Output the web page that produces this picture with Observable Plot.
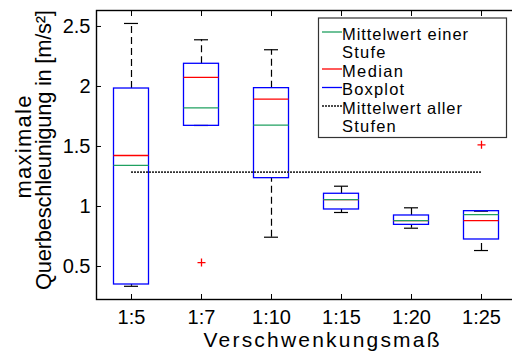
<!DOCTYPE html>
<html><head><meta charset="utf-8">
<script src="https://cdn.jsdelivr.net/npm/d3@7"></script>
<script src="https://cdn.jsdelivr.net/npm/@observablehq/plot@0.6"></script>
<style>
body{margin:0;background:#fff;font-family:"Liberation Sans",Arial,sans-serif;}
#wrap{position:relative;width:512px;height:354px;overflow:hidden;background:#fff;}
#wrap svg{position:absolute;left:0;top:0;overflow:hidden;}
</style></head><body><div id="wrap"></div>
<script>
const categories = ["1:5","1:7","1:10","1:15","1:20","1:25"];
const whiskerLow  = [0.335, 1.675, 0.744, 0.950, 0.819, 0.633];
const q1          = [0.350, 1.672, 1.236, 0.975, 0.847, 0.725];
const median      = [1.425, 2.075, 1.894, 1.058, 0.883, 0.883];
const q3          = [1.983, 2.189, 1.986, 1.106, 0.925, 0.961];
const whiskerHigh = [2.525, 2.389, 2.306, 1.169, 0.989, 0.961];
const means       = [1.342, 1.822, 1.678, 1.058, 0.883, 0.933];
const outlierCategory = ["1:7", "1:25"];
const outlierValue    = [0.533, 1.514];
const overallMean = 1.286;
const yTicks = [0.5, 1, 1.5, 2, 2.5];
const xLabel = "Verschwenkungsmaß";
const yLabelLines = ["maximale", "Querbeschleunigung in [m/s²]"];
const legendLabels = ["Mittelwert einer\nStufe", "Median", "Boxplot", "Mittelwert aller\nStufen"];

const rows = categories.map((c, i) => ({
  cat: c, pos: i + 1, lo: whiskerLow[i], q1: q1[i], med: median[i],
  q3: q3[i], hi: whiskerHigh[i], mean: means[i]
}));
const outliers = outlierCategory.map((c, i) => ({pos: categories.indexOf(c) + 1, v: outlierValue[i]}));
const bw = 0.25, cw = 0.1;
const pos = categories.map((c, i) => i + 1);
const green = "#20a060";
const FONT = "'Liberation Sans', Arial, Helvetica, sans-serif";
const plusSymbol = {
  draw(ctx, size) {
    const r = Math.sqrt(size / Math.PI);
    ctx.moveTo(-r, 0); ctx.lineTo(r, 0);
    ctx.moveTo(0, -r); ctx.lineTo(0, r);
  }
};

const chart = Plot.plot({
  width: 512, height: 354,
  marginLeft: 96, marginRight: -4, marginTop: 10, marginBottom: 55,
  x: {domain: [0.5, 6.5]},
  y: {domain: [0.225, 2.633]},
  style: {fontFamily: FONT, fontSize: "20px", color: "black", background: "white"},
  marks: [
    Plot.ruleX(rows, {x: "pos", y1: "q3", y2: "hi", stroke: "black", strokeDasharray: "7,4", strokeWidth: 1.2}),
    Plot.ruleX(rows, {x: "pos", y1: "lo", y2: "q1", stroke: "black", strokeDasharray: "7,4", strokeWidth: 1.2}),
    Plot.ruleY(rows, {y: "hi", x1: d => d.pos - cw, x2: d => d.pos + cw, stroke: "black", strokeWidth: 1.2}),
    Plot.ruleY(rows, {y: "lo", x1: d => d.pos - cw, x2: d => d.pos + cw, stroke: "black", strokeWidth: 1.2}),
    Plot.rect(rows, {x1: d => d.pos - bw, x2: d => d.pos + bw, y1: "q1", y2: "q3", stroke: "blue", fill: "none", strokeWidth: 1.3}),
    Plot.ruleY(rows, {y: "med", x1: d => d.pos - bw, x2: d => d.pos + bw, stroke: "red", strokeWidth: 1.3}),
    Plot.ruleY(rows, {y: "mean", x1: d => d.pos - bw, x2: d => d.pos + bw, stroke: green, strokeWidth: 1.3}),
    Plot.ruleY([overallMean], {x1: 1, x2: categories.length, stroke: "#333", strokeDasharray: "2,1", strokeWidth: 1.6}),
    Plot.dot(outliers, {x: "pos", y: "v", symbol: plusSymbol, r: 4, stroke: "red", fill: "none", strokeWidth: 1.3}),
    Plot.frame({stroke: "black", strokeWidth: 1.4}),
    Plot.axisY({ticks: yTicks, tickSize: -5, tickPadding: 11, tickFormat: d => String(d), label: null, fontSize: 20}),
    Plot.axisY({anchor: "right", ticks: yTicks, tickSize: -5, tickFormat: () => "", label: null}),
    Plot.axisX({ticks: pos, tickSize: -5, tickPadding: 15, tickFormat: d => categories[d - 1], label: null, fontSize: 20}),
    Plot.axisX({anchor: "top", ticks: pos, tickSize: -5, tickFormat: () => "", label: null})
  ]
});
document.getElementById("wrap").appendChild(chart);

const svg = d3.select(chart);
// axis titles
svg.append("text")
  .attr("x", 321.5).attr("y", 347)
  .attr("text-anchor", "middle")
  .attr("font-family", FONT).attr("font-size", 21)
  .attr("textLength", 236).attr("lengthAdjust", "spacing")
  .attr("fill", "black")
  .text(xLabel);
const yl = [{x: 31, y: 147, len: 103}, {x: 51, y: 150, len: 280}];
yLabelLines.forEach((t, i) => {
  svg.append("text")
    .attr("transform", `translate(${yl[i].x},${yl[i].y}) rotate(-90)`)
    .attr("text-anchor", "middle")
    .attr("font-family", FONT).attr("font-size", 22)
    .attr("textLength", yl[i].len).attr("lengthAdjust", "spacing")
    .attr("fill", "black")
    .text(t);
});

// legend
const legendFont = 16.5, refFont = 18.6, rowStep = 18.5;
const lg = svg.append("g").attr("font-family", FONT).attr("font-size", legendFont).attr("text-anchor", "start");
lg.append("rect").attr("x", 318.5).attr("y", 18).attr("width", 188).attr("height", 119.5)
  .attr("fill", "white").attr("stroke", "#333").attr("stroke-width", 1.2);
const lines = legendLabels.flatMap(s => s.split("\n"));
const baseline = k => 39.5 + rowStep * k;
lines.forEach((t, k) => {
  const node = lg.append("text").attr("x", 342).attr("y", baseline(k))
    .attr("text-anchor", "start").attr("fill", "black").text(t).node();
  const w = node.getComputedTextLength();
  node.setAttribute("textLength", (w * refFont / legendFont).toFixed(1));
  node.setAttribute("lengthAdjust", "spacing");
});
const samples = [
  {row: 0, color: green, dash: null},
  {row: 2, color: "red", dash: null},
  {row: 3, color: "blue", dash: null},
  {row: 4, color: "#111", dash: "2,1"}
];
samples.forEach(s => {
  lg.append("line")
    .attr("x1", 322).attr("x2", 342)
    .attr("y1", baseline(s.row) - 7.5).attr("y2", baseline(s.row) - 7.5)
    .attr("stroke", s.color).attr("stroke-width", 1.3)
    .attr("stroke-dasharray", s.dash);
});
</script></body></html>
